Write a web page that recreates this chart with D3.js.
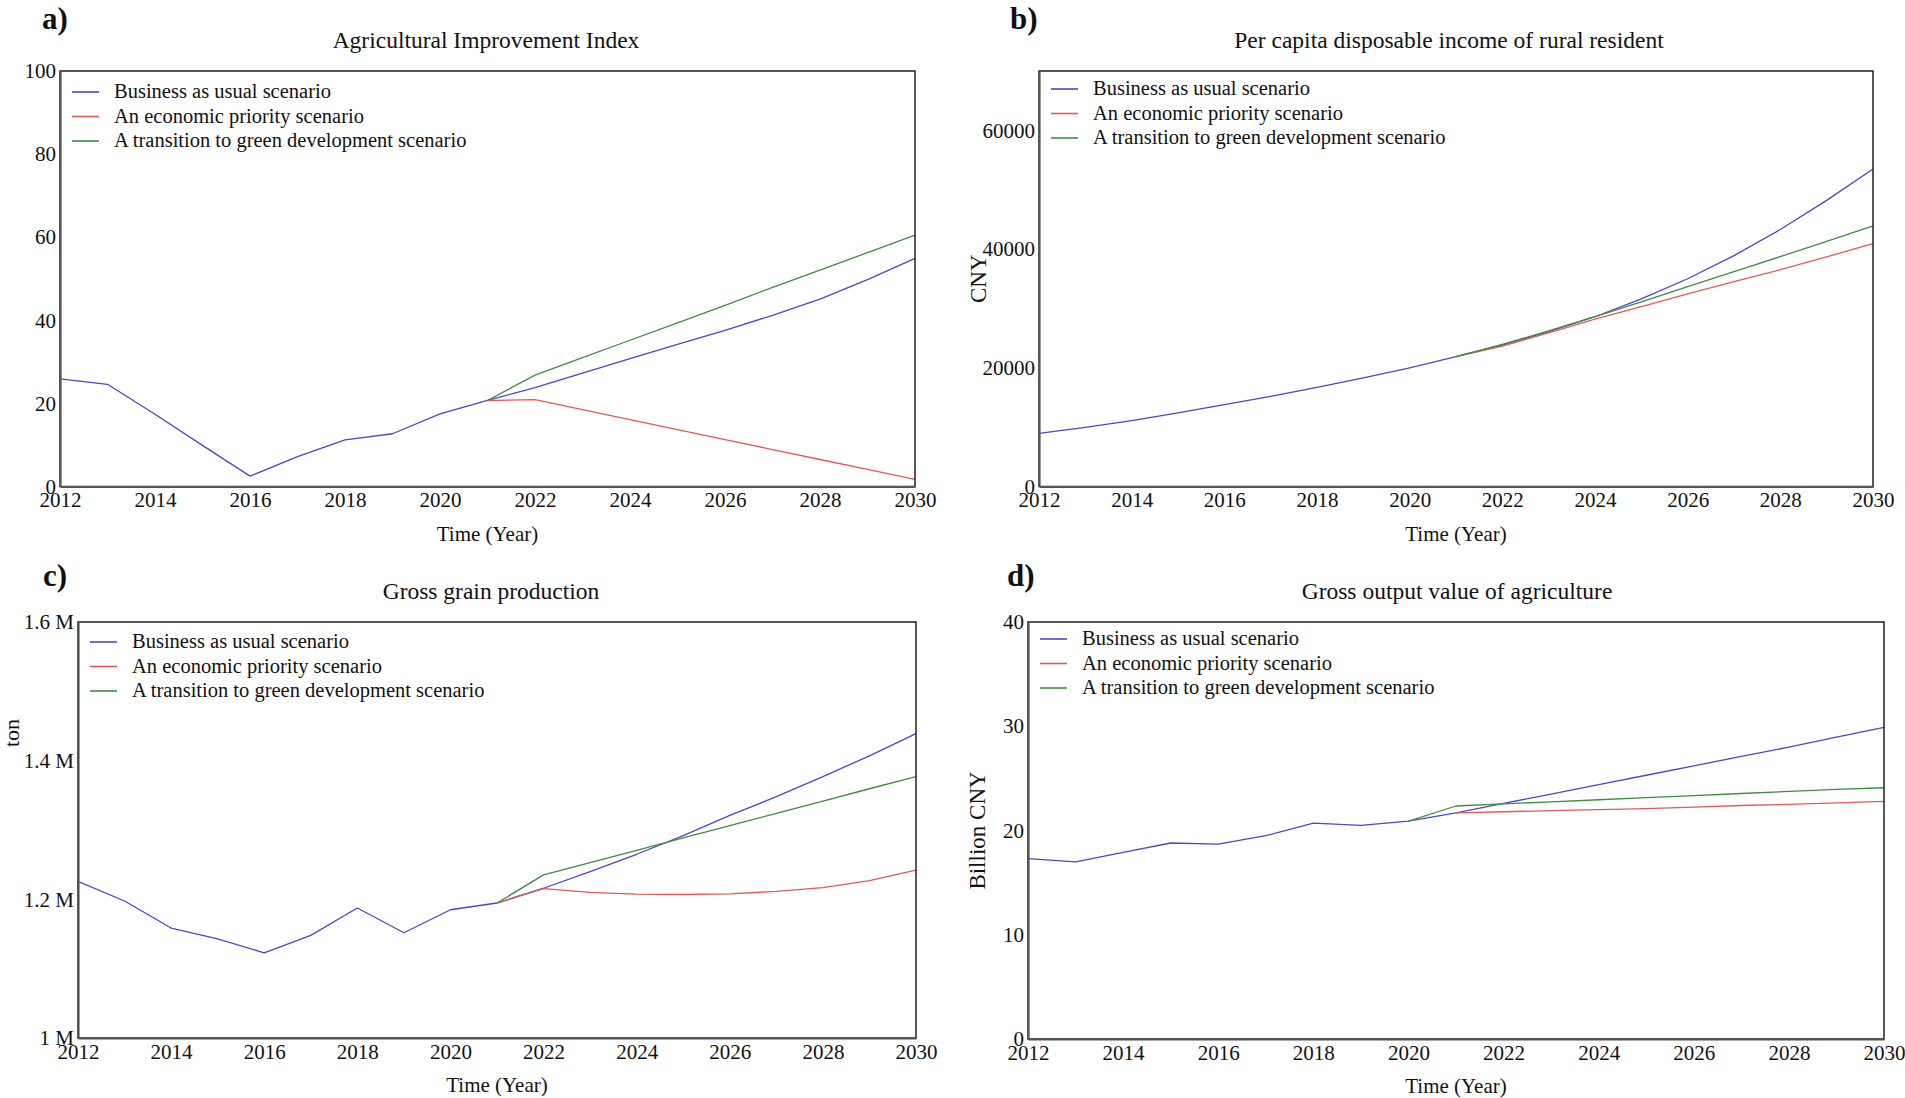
<!DOCTYPE html>
<html>
<head>
<meta charset="utf-8">
<script src="https://cdn.jsdelivr.net/npm/d3@7"></script>
<style>
  body { margin: 0; background: #fff; }
  svg { font-family: "Liberation Serif", "Times New Roman", serif; }
</style>
</head>
<body>
<svg id="chart"></svg>
<script>
const years = [2012, 2013, 2014, 2015, 2016, 2017, 2018, 2019, 2020, 2021,
               2022, 2023, 2024, 2025, 2026, 2027, 2028, 2029, 2030];
const yearTicks = [2012, 2014, 2016, 2018, 2020, 2022, 2024, 2026, 2028, 2030];

const scenarioNames = [
  "Business as usual scenario",
  "An economic priority scenario",
  "A transition to green development scenario"
];
const scenarioColors = ["#4848c8", "#e05a5a", "#3f8d3f"];

// a) Agricultural Improvement Index
const aiiBau   = [25.9, 24.6, 17.4, 9.9, 2.5, 7.2, 11.2, 12.7, 17.5, 20.7,
                  23.8, 27.3, 30.8, 34.2, 37.6, 41.2, 45.1, 49.8, 54.9];
const aiiEco   = [null, null, null, null, null, null, null, null, null, 20.7,
                  20.9, 18.5, 16.1, 13.7, 11.3, 8.9, 6.5, 4.1, 1.7];
const aiiGreen = [null, null, null, null, null, null, null, null, null, 20.7,
                  26.8, 31.0, 35.2, 39.4, 43.6, 47.9, 52.1, 56.3, 60.5];
const aiiTicks = [0, 20, 40, 60, 80, 100];

// b) Per capita disposable income of rural resident (CNY)
const incBau   = [8950, 9950, 11100, 12400, 13800, 15200, 16700, 18300, 20000, 21870,
                  23830, 26100, 28600, 31600, 35000, 38900, 43300, 48200, 53500];
const incEco   = [null, null, null, null, null, null, null, null, null, 21870,
                  23650, 25900, 28180, 30300, 32470, 34500, 36520, 38700, 40900];
const incGreen = [null, null, null, null, null, null, null, null, null, 21870,
                  23950, 26200, 28600, 31100, 33660, 36200, 38730, 41300, 43900];
const incTicks = [0, 20000, 40000, 60000];

// c) Gross grain production (ton)
const grainBau   = [1226000, 1197600, 1158600, 1143100, 1122900, 1148000, 1187500, 1151800, 1185000, 1194700,
                    1216000, 1240000, 1265000, 1292000, 1321000, 1348000, 1377000, 1407000, 1439000];
const grainEco   = [null, null, null, null, null, null, null, null, null, 1194700,
                    1215400, 1210000, 1207500, 1207000, 1208000, 1211500, 1217000, 1227000, 1242000];
const grainGreen = [null, null, null, null, null, null, null, null, null, 1194700,
                    1235200, 1253000, 1270700, 1288500, 1306200, 1324000, 1341700, 1359500, 1377000];
const grainTicks = [1000000, 1200000, 1400000, 1600000];

// d) Gross output value of agriculture (Billion CNY)
const outBau   = [17.3, 17.0, 17.9, 18.8, 18.7, 19.5, 20.7, 20.5, 20.9, 21.7,
                  22.6, 23.5, 24.4, 25.3, 26.2, 27.1, 28.0, 28.95, 29.9];
const outEco   = [null, null, null, null, null, null, null, null, null, 21.7,
                  21.8, 21.9, 22.0, 22.1, 22.25, 22.4, 22.5, 22.65, 22.8];
const outGreen = [null, null, null, null, null, null, null, null, 20.9, 22.35,
                  22.55, 22.75, 22.95, 23.15, 23.35, 23.55, 23.75, 23.95, 24.1];
const outTicks = [0, 10, 20, 30, 40];

const w = 1905;
const h = 1098;

const svg = d3.select("#chart")
              .attr("width", w)
              .attr("height", h);

const panels = [
  { letter: "a)", title: "Agricultural Improvement Index", yLabel: null,
    series: [aiiBau, aiiEco, aiiGreen], yDomain: [0, 100], yTicks: aiiTicks, yFormat: d3.format("d"),
    left: 60, right: 915, top: 71, bottom: 486.5, letterX: 42, letterY: 29, legendY: 27, titleX: 486 },
  { letter: "b)", title: "Per capita disposable income of rural resident", yLabel: "CNY", yLabelX: 986,
    series: [incBau, incEco, incGreen], yDomain: [0, 70000], yTicks: incTicks, yFormat: d3.format("d"),
    left: 1039, right: 1873, top: 71, bottom: 486.5, letterX: 1010, letterY: 29, legendY: 24, titleX: 1449 },
  { letter: "c)", title: "Gross grain production", yLabel: "ton", yLabelX: 19, yLabelY: 733,
    series: [grainBau, grainEco, grainGreen], yDomain: [1000000, 1600000], yTicks: grainTicks,
    yFormat: v => (v / 1e6) + " M",
    left: 78, right: 916, top: 622, bottom: 1038, letterX: 43, letterY: 586, legendY: 26, titleX: 491 },
  { letter: "d)", title: "Gross output value of agriculture", yLabel: "Billion CNY", yLabelX: 985,
    series: [outBau, outEco, outGreen], yDomain: [0, 40], yTicks: outTicks, yFormat: d3.format("d"),
    left: 1028, right: 1884, top: 622, bottom: 1039, letterX: 1007, letterY: 586, legendY: 23, titleX: 1457 }
];

const drawPanel = (p) => {
  const g = svg.append("g");

  const xScale = d3.scaleLinear()
                   .domain([2012, 2030])
                   .range([p.left, p.right]);
  const yScale = d3.scaleLinear()
                   .domain(p.yDomain)
                   .range([p.bottom, p.top]);

  const line = d3.line()
                 .defined(d => d[1] != null)
                 .x(d => xScale(d[0]))
                 .y(d => yScale(d[1]));

  p.series.forEach((s, i) => {
    g.append("path")
     .datum(years.map((yr, j) => [yr, s[j]]))
     .attr("d", line)
     .attr("fill", "none")
     .attr("stroke", scenarioColors[i])
     .attr("stroke-width", 1.3)
     .attr("stroke-linejoin", "round");
  });

  // frame: thin black top/right, thicker grey left/bottom
  g.append("rect")
   .attr("x", p.left)
   .attr("y", p.top)
   .attr("width", p.right - p.left)
   .attr("height", p.bottom - p.top)
   .attr("fill", "none")
   .attr("stroke", "#111")
   .attr("stroke-width", 1.4);

  const xAxis = d3.axisBottom(xScale)
                  .tickValues(yearTicks)
                  .tickFormat(d3.format("d"))
                  .tickSize(0)
                  .tickPadding(6);
  g.append("g")
   .attr("transform", "translate(0," + p.bottom + ")")
   .call(xAxis)
   .call(a => a.select(".domain")
               .attr("stroke", "#555")
               .attr("stroke-width", 2.2))
   .attr("font-family", null)
   .attr("font-size", 21)
   .attr("color", "#111");

  const yAxis = d3.axisLeft(yScale)
                  .tickValues(p.yTicks)
                  .tickFormat(p.yFormat)
                  .tickSize(0)
                  .tickPadding(4);
  g.append("g")
   .attr("transform", "translate(" + p.left + ",0)")
   .call(yAxis)
   .call(a => a.select(".domain")
               .attr("stroke", "#555")
               .attr("stroke-width", 2.2))
   .attr("font-family", null)
   .attr("font-size", 21)
   .attr("color", "#111");

  // panel letter
  svg.append("text")
     .attr("x", p.letterX)
     .attr("y", p.letterY)
     .attr("font-size", 31)
     .attr("font-weight", "bold")
     .attr("fill", "#111")
     .text(p.letter);

  // title
  svg.append("text")
     .attr("x", p.titleX)
     .attr("y", p.top - 23)
     .attr("text-anchor", "middle")
     .attr("font-size", 23.5)
     .attr("fill", "#111")
     .text(p.title);

  // x label
  svg.append("text")
     .attr("x", (p.left + p.right) / 2)
     .attr("y", p.bottom + 54)
     .attr("text-anchor", "middle")
     .attr("font-size", 21)
     .attr("fill", "#111")
     .text("Time (Year)");

  // y label
  if (p.yLabel) {
    const cy = p.yLabelY || (p.top + p.bottom) / 2;
    svg.append("text")
       .attr("transform", "translate(" + p.yLabelX + "," + cy + ") rotate(-90)")
       .attr("text-anchor", "middle")
       .attr("font-size", p.yLabel === "ton" ? 22 : 23)
       .attr("fill", "#111")
       .text(p.yLabel);
  }

  // legend
  scenarioNames.forEach((name, i) => {
    const by = p.top + p.legendY + i * 24.5;
    g.append("line")
     .attr("x1", p.left + 12)
     .attr("x2", p.left + 39)
     .attr("y1", by - 6)
     .attr("y2", by - 6)
     .attr("stroke", scenarioColors[i])
     .attr("stroke-width", 1.6);
    g.append("text")
     .attr("x", p.left + 54)
     .attr("y", by)
     .attr("font-size", 20.5)
     .attr("fill", "#111")
     .text(name);
  });
};

panels.forEach(drawPanel);
</script>
</body>
</html>
